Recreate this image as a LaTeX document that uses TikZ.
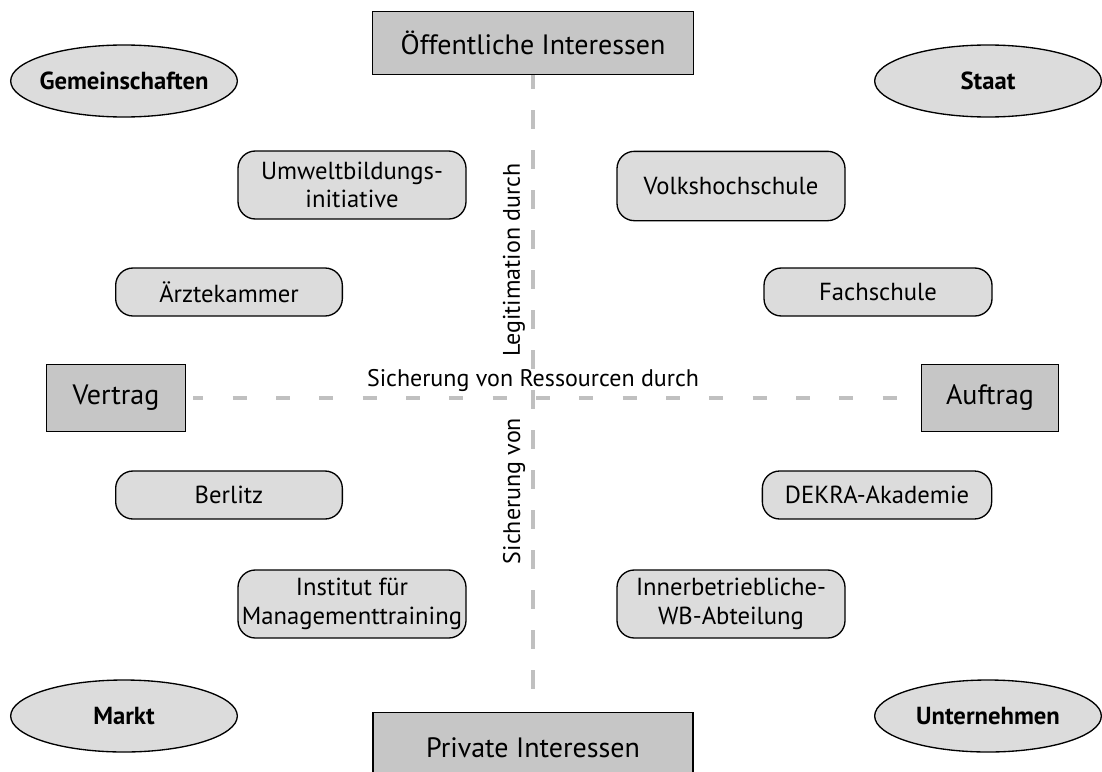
\documentclass[tikz,border=0pt]{standalone}
\usepackage{fontspec}
\setmainfont{PT Sans}
\usetikzlibrary{shapes.geometric}
\definecolor{boxgray}{HTML}{C6C6C6}
\definecolor{softgray}{HTML}{DCDCDC}
\definecolor{dashgray}{HTML}{C0C0C0}
\newcommand{\ovaltext}[1]{\makebox[0pt]{#1}}
\tikzset{
  hbox/.style={draw=black, line width=1.1pt, fill=boxgray, minimum width=#1, inner sep=0pt, font=\fontsize{21}{25}\selectfont},
  rbox/.style={draw=black, line width=1pt, fill=softgray, rounded corners=13pt, inner sep=0pt, align=center, font=\fontsize{18.5}{21.5}\selectfont},
  oval/.style={draw=black, line width=1pt, fill=softgray, ellipse, minimum width=170pt, minimum height=54pt, inner sep=0pt, font=\bfseries\fontsize{18.5}{22}\selectfont},
  vaxis/.style={draw=dashgray, line width=2.3pt, dash pattern=on 14.25pt off 15.75pt},
  haxis/.style={draw=dashgray, line width=2.3pt, dash pattern=on 10.5pt off 22pt},
  lbl/.style={font=\fontsize{18}{22}\selectfont, inner sep=1pt}
}
\begin{document}
\begin{tikzpicture}[x=0.75pt, y=-0.75pt]
\useasboundingbox (0,0) rectangle (1102,771);
% axes
\node[hbox=241pt, minimum height=47pt] (pub) at (533,43) {Öffentliche Interessen};
\node[hbox=240pt, minimum height=52pt, anchor=north] (priv) at (533,712) {Private Interessen};
\node[hbox=104pt, minimum height=50pt] (vert) at (116,398) {Vertrag};
\node[hbox=103pt, minimum height=50pt] (auft) at (990,398) {Auftrag};
\draw[vaxis, dash phase=3.75pt, shorten >=3pt] (pub.south) -- (priv.north);
\draw[haxis, dash phase=3pt, shorten <=5.5pt, shorten >=4.5pt] (vert.east) -- (auft.west);
\node[lbl] (res) at (533,380) {Sicherung von Ressourcen durch};
\node[lbl, rotate=90] (leg) at (514,260) {Legitimation durch};
\node[lbl, rotate=90] (sich) at (514,491) {Sicherung von};
% corner ellipses
\node[oval] (gem) at (124,81) {\ovaltext{Gemeinschaften}};
\node[oval] (staat) at (988,81) {\ovaltext{Staat}};
\node[oval] (markt) at (124,716) {\ovaltext{Markt}};
\node[oval] (unt) at (988,716) {\ovaltext{Unternehmen}};
% institutions
\node[rbox, minimum width=171pt, minimum height=51pt] (umw) at (352,185) {Umweltbildungs-\\initiative};
\node[rbox, minimum width=171pt, minimum height=52pt] (vhs) at (731,186) {Volkshochschule};
\node[rbox, minimum width=170pt, minimum height=36pt] (aerz) at (229,292) {Ärztekammer};
\node[rbox, minimum width=171pt, minimum height=36pt] (fach) at (878,292) {Fachschule};
\node[rbox, minimum width=170pt, minimum height=36pt] (berl) at (229,495) {Berlitz};
\node[rbox, minimum width=172pt, minimum height=36pt] (dekra) at (877,495) {DEKRA-Akademie};
\node[rbox, minimum width=171pt, minimum height=51pt] (inst) at (352,604) {Institut für\\Managementtraining};
\node[rbox, minimum width=171pt, minimum height=51pt] (inner) at (731,604) {Innerbetriebliche-\\WB-Abteilung};
\end{tikzpicture}
\end{document}
